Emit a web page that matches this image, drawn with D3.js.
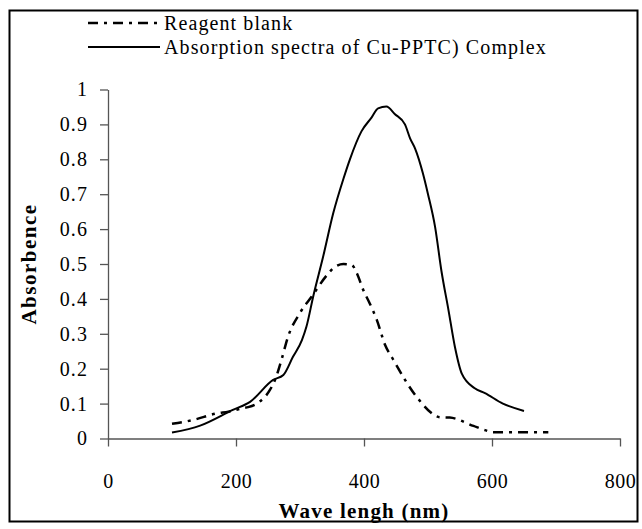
<!DOCTYPE html>
<html>
<head>
<meta charset="utf-8">
<script src="https://cdn.jsdelivr.net/npm/d3@7"></script>
<style>
  body { margin: 0; background: #fff; }
  svg text { font-family: "Liberation Serif", "Times New Roman", serif; fill: #000; }
</style>
</head>
<body>
<div id="chart"></div>
<script>
// Cu-PPTC complex absorption spectrum (solid)
const complexNm = [100, 144, 195, 222, 258, 274, 289, 303, 310, 321, 336, 352, 368, 378, 396, 412, 422, 435, 448, 464, 472, 480, 492, 500, 511, 521, 532, 542, 553, 573, 589, 617, 650];
const complexAbs = [0.017, 0.037, 0.082, 0.105, 0.168, 0.182, 0.234, 0.282, 0.32, 0.41, 0.52, 0.646, 0.745, 0.80, 0.88, 0.92, 0.946, 0.951, 0.93, 0.90, 0.86, 0.83, 0.76, 0.70, 0.607, 0.48, 0.368, 0.263, 0.185, 0.144, 0.13, 0.10, 0.079];

// Reagent blank (dash-dot)
const blankNm = [100, 133, 170, 188, 211, 219, 235, 253, 261, 271, 281, 300, 318, 342, 352, 368, 381, 389, 399, 409, 420, 433, 446, 482, 519, 534, 571, 589, 602, 688];
const blankAbs = [0.042, 0.053, 0.072, 0.077, 0.087, 0.09, 0.103, 0.139, 0.168, 0.225, 0.29, 0.36, 0.406, 0.468, 0.488, 0.50, 0.497, 0.473, 0.425, 0.387, 0.34, 0.268, 0.225, 0.12, 0.061, 0.06, 0.036, 0.024, 0.018, 0.018];

const xTicks = [0, 200, 400, 600, 800];
const yTicks = [0, 0.1, 0.2, 0.3, 0.4, 0.5, 0.6, 0.7, 0.8, 0.9, 1];

const width = 642, height = 529;
const plot = { left: 108, right: 620, top: 89.5, bottom: 438.5 };
const fontSize = 20;
const spacing = "1.1px";

const svg = d3.select("#chart").append("svg")
  .attr("width", width)
  .attr("height", height);

// outer frame
svg.append("rect")
  .attr("x", 9.5).attr("y", 10.5)
  .attr("width", 628).attr("height", 511)
  .attr("fill", "none").attr("stroke", "#000").attr("stroke-width", 2);

const x = d3.scaleLinear().domain([0, 800]).range([plot.left, plot.right]);
const y = d3.scaleLinear().domain([0, 1]).range([plot.bottom, plot.top]);

const xAxis = svg.append("g")
  .attr("transform", `translate(0,${plot.bottom})`)
  .call(d3.axisBottom(x).tickValues(xTicks).tickSize(8).tickPadding(27).tickSizeOuter(0));

const yAxis = svg.append("g")
  .attr("transform", `translate(${plot.left},0)`)
  .call(d3.axisLeft(y).tickValues(yTicks).tickSize(8).tickPadding(12).tickSizeOuter(0)
    .tickFormat((d) => d3.format("")(+d.toFixed(1))));

[xAxis, yAxis].forEach((g) => {
  g.select(".domain").attr("stroke", "#555").attr("stroke-width", 1.3);
  g.selectAll(".tick line").attr("stroke", "#555").attr("stroke-width", 1.3);
  g.selectAll(".tick text")
    .attr("font-size", fontSize)
    .attr("font-family", "Liberation Serif")
    .attr("letter-spacing", spacing)
    .attr("fill", "#000");
});
xAxis.selectAll(".tick text").attr("letter-spacing", "0.5px");

const line = d3.line()
  .x((d) => x(d[0]))
  .y((d) => y(d[1]))
  .curve(d3.curveMonotoneX);

svg.append("path")
  .datum(d3.zip(blankNm, blankAbs))
  .attr("d", line)
  .attr("fill", "none").attr("stroke", "#000")
  .attr("stroke-width", 2.5)
  .attr("stroke-dasharray", "10,6,3,6");

svg.append("path")
  .datum(d3.zip(complexNm, complexAbs))
  .attr("d", line)
  .attr("fill", "none").attr("stroke", "#000")
  .attr("stroke-width", 2);

// axis titles
svg.append("text")
  .attr("x", 364).attr("y", 518)
  .attr("text-anchor", "middle")
  .attr("font-size", 21).attr("font-weight", "bold")
  .attr("letter-spacing", "1.2px")
  .text("Wave lengh (nm)");

svg.append("text")
  .attr("transform", "translate(36,264) rotate(-90)")
  .attr("text-anchor", "middle")
  .attr("font-size", 21).attr("font-weight", "bold")
  .attr("letter-spacing", "1.5px")
  .text("Absorbence");

// legend
const legend = [
  { label: "Reagent blank", dash: "10,6,3,6", w: 2.5 },
  { label: "Absorption spectra of Cu-PPTC) Complex", dash: null, w: 2 }
];
const lg = svg.append("g");
legend.forEach((d, i) => {
  const ly = 23 + i * 24;
  lg.append("line")
    .attr("x1", 88).attr("x2", 160).attr("y1", ly).attr("y2", ly)
    .attr("stroke", "#000").attr("stroke-width", d.w)
    .attr("stroke-dasharray", d.dash);
  lg.append("text")
    .attr("x", 164).attr("y", ly).attr("dy", "0.35em")
    .attr("font-size", fontSize)
    .attr("letter-spacing", spacing)
    .text(d.label);
});
</script>
</body>
</html>
